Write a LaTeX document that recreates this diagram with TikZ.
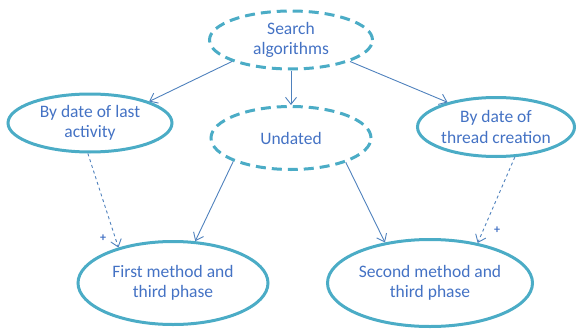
\documentclass[tikz,border=0pt]{standalone}
\usepackage{fontspec}
\setmainfont{Carlito}
\usetikzlibrary{arrows.meta, shapes.geometric}
\definecolor{rimblue}{RGB}{75,172,198}
\definecolor{linkblue}{RGB}{79,129,189}
\definecolor{txtblue}{RGB}{68,114,196}

\begin{document}
\begin{tikzpicture}[x=1pt, y=-1pt,
  topic/.style={ellipse, draw=rimblue, line width=3pt, text=txtblue, align=center,
    font=\fontsize{17.5}{20.5}\selectfont, inner sep=0pt},
  loose/.style={topic, dash pattern=on 10pt off 6pt},
  link/.style={linkblue, line width=0.9pt, -{Straight Barb[length=7pt, width=11pt]}},
  plus/.style={text=txtblue, font=\fontsize{12}{12}\selectfont\bfseries}]
\useasboundingbox (0,0) rectangle (577,329);

\node[loose, minimum width=163pt, minimum height=58pt] (search) at (291,40) {Search\\algorithms};
\node[topic, minimum width=164pt, minimum height=58pt] (last) at (90,123) {By date of last\\activity};
\node[loose, minimum width=160pt, minimum height=63pt] (undated) at (291,138) {Undated};
\node[topic, minimum width=157pt, minimum height=59pt] (thread) at (496,127) {By date of\\thread creation};
\node[topic, minimum width=190pt, minimum height=83pt] (first) at (173,283) {First method and\\third phase};
\node[topic, minimum width=205pt, minimum height=87pt] (second) at (430,283) {Second method and\\third phase};

% from the search node
\draw[link] (search.200) -- (last.20);
\draw[link] (search.south) -- (undated.north);
\draw[link] (search.340) -- (thread.153);

% from the undated node
\draw[link] (undated.202) -- (first.62);
\draw[link] (undated.336) -- (second.138);

% dashed ones
\draw[link, dashed] (last.266) -- (first.147);
\draw[link, dashed] (thread.302) -- (second.40);
\node[plus] (plusa) at (103,238) {+};
\node[plus] (plusb) at (497,230) {+};
\end{tikzpicture}
\end{document}
